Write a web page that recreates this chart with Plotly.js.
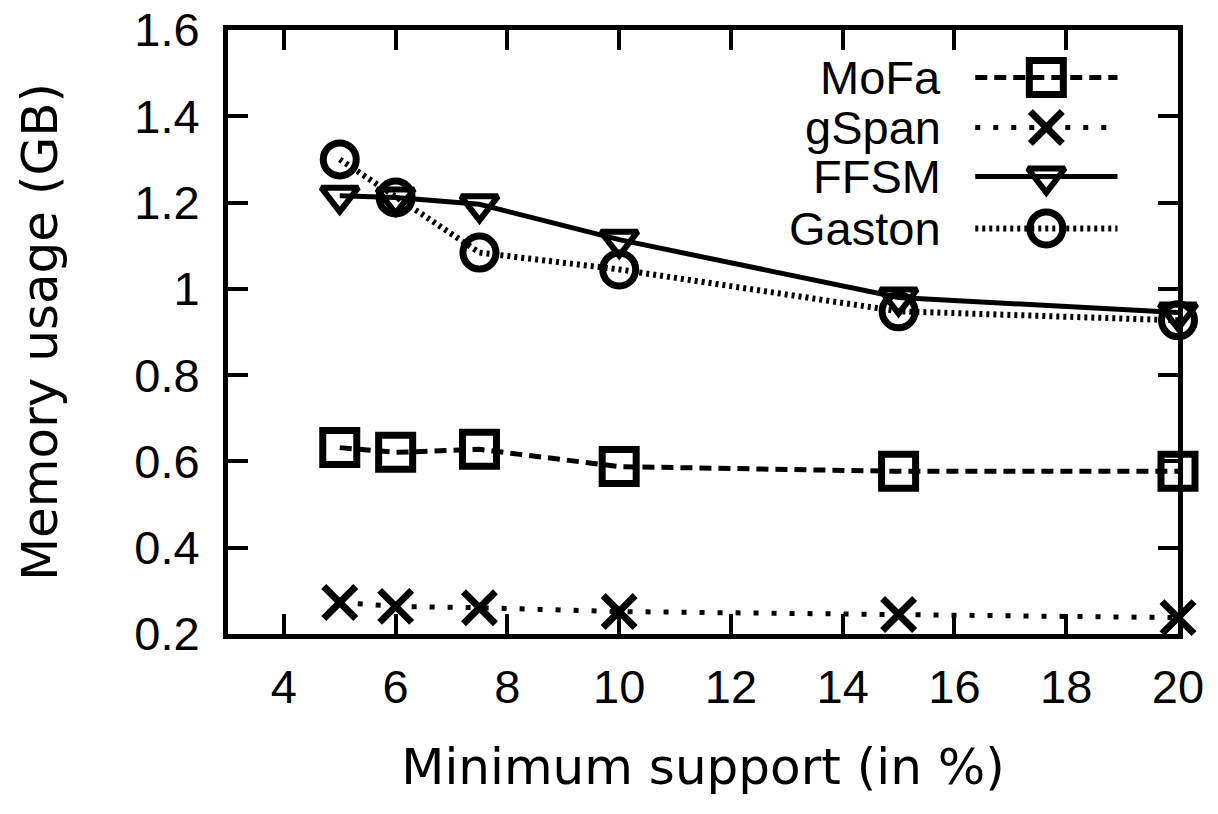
<!DOCTYPE html>
<html>
<head>
<meta charset="utf-8">
<script src="https://cdn.plot.ly/plotly-3.0.1.min.js"></script>
<style>
  html, body { margin: 0; padding: 0; background: #fff; }
  #chart { width: 1218px; height: 814px; }
</style>
</head>
<body>
<div id="chart"></div>
<script>
// ---- data ----
const minSupport = [5, 6, 7.5, 10, 15, 20];
const seriesNames = ["MoFa", "gSpan", "FFSM", "Gaston"];
const mofa   = [0.632, 0.621, 0.628, 0.588, 0.577, 0.577];
const gspan  = [0.273, 0.264, 0.261, 0.252, 0.245, 0.238];
const ffsm   = [1.216, 1.212, 1.196, 1.114, 0.980, 0.945];
const gaston = [1.300, 1.212, 1.084, 1.045, 0.948, 0.927];
const xTitle = "Minimum support (in %)";
const yTitle = "Memory usage (GB)";

// ---- styles ----
const styles = [
  { dash: "12px,7px", width: 5, symbol: "square-open",        size: 34, lw: 7 },
  { dash: "5px,13px", width: 5, symbol: "x-thin-open",        size: 32, lw: 7 },
  { dash: "solid",    width: 5, symbol: "triangle-down-open", size: 32, lw: 6 },
  { dash: "3px,4px",  width: 6, symbol: "circle-open",        size: 33, lw: 7 }
];
const values = [mofa, gspan, ffsm, gaston];

const traces = values.map((v, i) => ({
  type: "scatter",
  mode: "lines+markers",
  name: seriesNames[i],
  x: minSupport,
  y: v,
  cliponaxis: false,
  showlegend: false,
  line: { color: "#000", width: styles[i].width, dash: styles[i].dash },
  marker: { symbol: styles[i].symbol, size: styles[i].size, color: "#000",
            line: { color: "#000", width: styles[i].lw } }
}));

// ---- custom gnuplot-style key (text on left, sample on right) ----
const key = { textX: 0.7529, x0: 0.7866, xm: 0.8614, x1: 0.9363,
              rows: [0.9214, 0.8386, 0.7575, 0.6714] };
const annotations = [];
seriesNames.forEach((nm, i) => {
  const ry = key.rows[i];
  traces.push({
    type: "scatter", mode: "lines+markers", xaxis: "x2", yaxis: "y2",
    x: [key.x0, key.xm, key.x1], y: [ry, ry, ry],
    showlegend: false, hoverinfo: "skip", cliponaxis: false,
    line: { color: "#000", width: styles[i].width, dash: styles[i].dash },
    marker: { symbol: styles[i].symbol, size: styles[i].size, color: "#000",
              opacity: [0, 1, 0],
              line: { color: "#000", width: styles[i].lw } }
  });
  annotations.push({
    xref: "paper", yref: "paper", x: key.textX, y: ry,
    xanchor: "right", yanchor: "middle", showarrow: false,
    text: nm, font: { family: "Liberation Sans, Arial, sans-serif", size: 47, color: "#000" }
  });
});

const tickFont = { family: "Liberation Sans, Arial, sans-serif", size: 47, color: "#000" };
const titleFont = { family: "DejaVu Sans, Verdana, sans-serif", size: 50, color: "#000" };

const layout = {
  width: 1218, height: 814,
  paper_bgcolor: "#fff", plot_bgcolor: "#fff",
  margin: { l: 228, r: 40, t: 30, b: 180, pad: 0 },
  showlegend: false,
  xaxis: {
    range: [3, 20], tick0: 0, dtick: 2,
    showgrid: false, zeroline: false,
    showline: true, linecolor: "#000", linewidth: 5, mirror: "ticks",
    ticks: "inside", ticklen: 20, tickwidth: 4, tickcolor: "#000",
    tickfont: tickFont, ticklabelstandoff: 8,
    title: { text: xTitle, font: titleFont, standoff: 38 },
    automargin: false
  },
  yaxis: {
    range: [0.2, 1.6], tick0: 0, dtick: 0.2,
    showgrid: false, zeroline: false,
    showline: true, linecolor: "#000", linewidth: 5, mirror: "ticks",
    ticks: "inside", ticklen: 20, tickwidth: 4, tickcolor: "#000",
    tickfont: tickFont, ticklabelstandoff: 14,
    title: { text: yTitle, font: titleFont, standoff: 62 },
    automargin: false
  },
  xaxis2: { overlaying: "x", range: [0, 1], visible: false, fixedrange: true },
  yaxis2: { overlaying: "y", range: [0, 1], visible: false, fixedrange: true },
  annotations: annotations
};

Plotly.newPlot("chart", traces, layout, { displayModeBar: false, staticPlot: true });
</script>
</body>
</html>
